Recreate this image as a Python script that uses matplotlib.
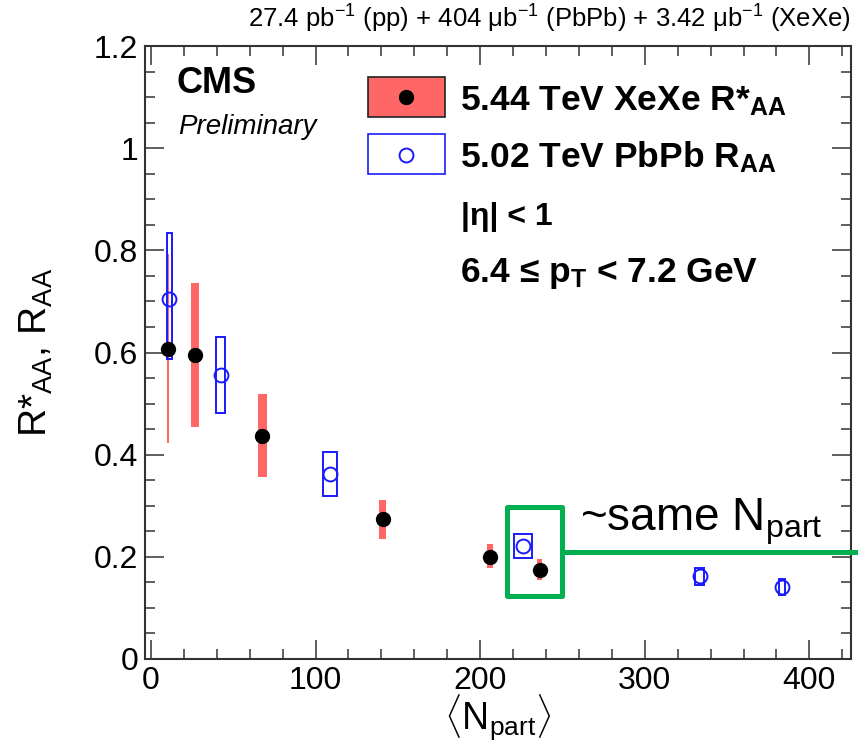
import matplotlib
matplotlib.use("Agg")
import matplotlib.pyplot as plt
from matplotlib.patches import Rectangle
from matplotlib.ticker import MultipleLocator, FuncFormatter

plt.rcParams['font.family'] = ['Liberation Sans', 'DejaVu Sans']
plt.rcParams['mathtext.fontset'] = 'custom'
plt.rcParams['mathtext.rm'] = 'Liberation Sans'
plt.rcParams['mathtext.it'] = 'Liberation Sans:italic'
plt.rcParams['mathtext.bf'] = 'Liberation Sans:bold'

# ---------------- data ----------------
# 5.44 TeV XeXe R*_AA
xe_npart = [10.5, 26.7, 67.6, 140.8, 206.0, 236.1]
xe_raa   = [0.607, 0.595, 0.436, 0.274, 0.200, 0.174]
xe_lo    = [0.422, 0.454, 0.357, 0.235, 0.178, 0.155]
xe_hi    = [0.792, 0.736, 0.519, 0.311, 0.226, 0.196]
xe_dx    = [0.6, 2.4, 2.7, 2.2, 1.7, 1.7]

# 5.02 TeV PbPb R_AA
pb_npart = [11.1, 42.3, 108.9, 226.2, 333.3, 383.5]
pb_raa   = [0.704, 0.555, 0.363, 0.222, 0.162, 0.140]
pb_lo    = [0.588, 0.481, 0.320, 0.197, 0.145, 0.125]
pb_hi    = [0.833, 0.631, 0.406, 0.245, 0.179, 0.156]
pb_dx    = [1.5, 3.0, 4.4, 5.5, 3.0, 1.8]

x_ticks = [0, 100, 200, 300, 400]
y_ticks = [0, 0.2, 0.4, 0.6, 0.8, 1.0, 1.2]

RED = '#ff6666'
BLUE = '#1a1aff'
GREEN = '#00b050'

W, H = 858, 753
fig = plt.figure(figsize=(W / 100, H / 100), dpi=100)
ax = fig.add_axes([145 / W, 1 - 659 / H, 706 / W, 613 / H])

# XeXe bands
ax.bar(xe_npart, [h - l for h, l in zip(xe_hi, xe_lo)], width=[2 * d for d in xe_dx],
       bottom=xe_lo, color=RED, linewidth=0, zorder=2)
# PbPb boxes
ax.bar(pb_npart, [h - l for h, l in zip(pb_hi, pb_lo)], width=[2 * d for d in pb_dx],
       bottom=pb_lo, fill=False, edgecolor=BLUE, linewidth=1.4, zorder=3)
ax.plot(pb_npart, pb_raa, 'o', ms=10, mfc='none', mec=BLUE, mew=1.4, zorder=4, clip_on=False)
ax.plot(xe_npart, xe_raa, 'o', ms=10, color='black', zorder=5, clip_on=False)

ax.set_xlim(-3.6, 425.3)
ax.set_ylim(0, 1.2)
ax.set_xticks(x_ticks)
ax.set_yticks(y_ticks)
ax.xaxis.set_minor_locator(MultipleLocator(20))
ax.yaxis.set_minor_locator(MultipleLocator(0.05))
ax.yaxis.set_major_formatter(FuncFormatter(lambda v, p: '%g' % v))
ax.tick_params(which='both', direction='in', top=True, right=True, color='#333333',
               width=1.1, labelsize=23, pad=5)
ax.tick_params(which='major', length=14)
ax.tick_params(which='minor', length=7.5)
for s in ax.spines.values():
    s.set_linewidth(1.5)
    s.set_color('#333333')

ax.set_xlabel(r'$\langle$N$_{\rm part}$$\rangle$', fontsize=27, labelpad=-2)
ax.set_ylabel(r'R*$_{\rm AA}$, R$_{\rm AA}$', fontsize=28, labelpad=28)

# header & CMS labels
fig.text(851 / W, 1 - 19 / H,
         r'27.4 pb$^{-1}$ (pp) + 404 μb$^{-1}$ (PbPb) + 3.42 μb$^{-1}$ (XeXe)',
         ha='right', va='center', fontsize=18.5)
fig.text(177 / W, 1 - 93 / H, 'CMS', fontsize=26, fontweight='bold', va='baseline')
fig.text(178 / W, 1 - 134 / H, 'Preliminary', fontsize=20, style='italic', va='baseline')

# legend
def fx(px):
    return (px - 145) / 706

def fy(py):
    return (659 - py) / 613

ax.add_patch(Rectangle((fx(368), fy(117)), 77 / 706, 40 / 613, transform=ax.transAxes,
                       facecolor=RED, edgecolor='#222222', linewidth=1.2, zorder=6))
ax.plot([fx(406)], [fy(97)], 'o', ms=10, color='black', transform=ax.transAxes, zorder=7)
ax.add_patch(Rectangle((fx(368), fy(174)), 77 / 706, 40 / 613, transform=ax.transAxes,
                       facecolor='white', edgecolor=BLUE, linewidth=1.2, zorder=6))
ax.plot([fx(406)], [fy(155)], 'o', ms=10, mfc='none', mec=BLUE, mew=1.4,
        transform=ax.transAxes, zorder=7)

fig.text(460 / W, 1 - 110 / H, r'5.44 TeV XeXe R*$_{\mathbf{AA}}$', fontsize=25.5,
         fontweight='bold', va='baseline')
fig.text(460 / W, 1 - 167 / H, r'5.02 TeV PbPb R$_{\mathbf{AA}}$', fontsize=25.5,
         fontweight='bold', va='baseline')
fig.text(461 / W, 1 - 225 / H, '|η| < 1', fontsize=23, fontweight='bold', va='baseline')
fig.text(460 / W, 1 - 282 / H, r'6.4 ≤ p$_{\mathbf{T}}$ < 7.2 GeV', fontsize=25.5,
         fontweight='bold', va='baseline')

# green annotation
bx0, bx1, by0, by1 = 216.3, 249.7, 0.123, 0.297
ax.add_patch(Rectangle((bx0, by0), bx1 - bx0, by1 - by0, fill=False, edgecolor=GREEN,
                       linewidth=3.6, joinstyle='round', clip_on=False, zorder=8))
ax.plot([bx1, 432], [0.210, 0.210], color=GREEN, lw=3.6, clip_on=False, zorder=8,
        solid_capstyle='butt')
ax.text(260.6, 0.252, r'~same N$_{\rm part}$', fontsize=33, va='baseline', zorder=9)

fig.savefig('out.png', dpi=100)
